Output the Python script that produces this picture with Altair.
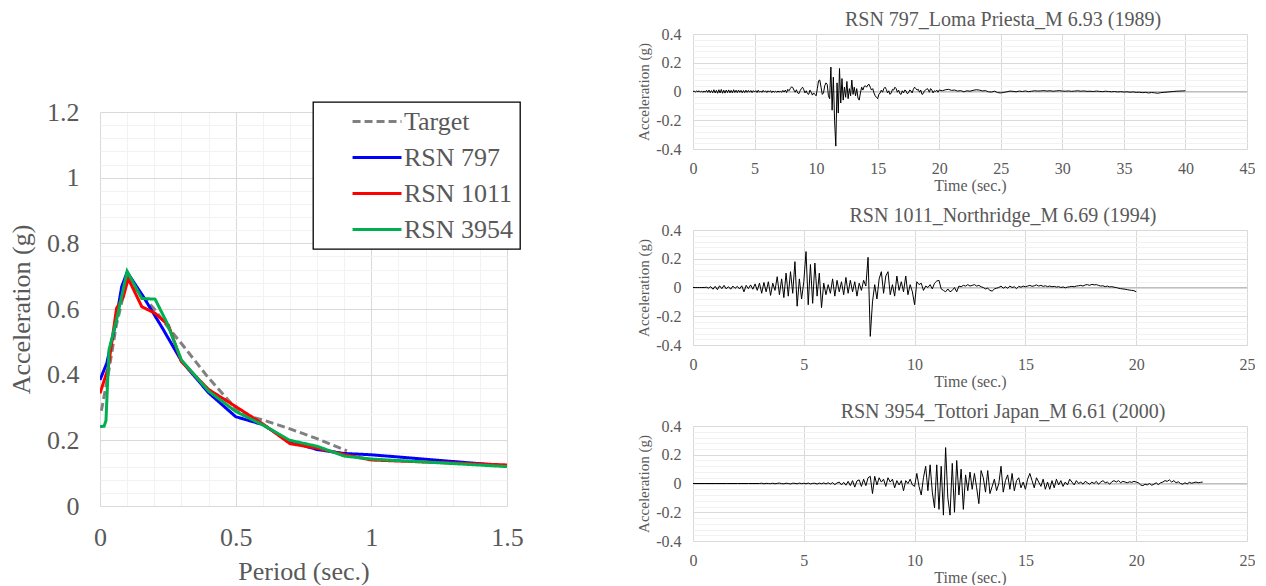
import altair as alt
import pandas as pd

FONT = "Liberation Serif"
GREY = "#595959"
MAJ = "#d9d9d9"
MIN = "#f2f2f2"

# ---------------- response spectra (left) ----------------
series_names = ["Target", "RSN 797", "RSN 1011", "RSN 3954"]
series_colors = ["#808080", "#0000ff", "#ff0000", "#00b050"]
series_dashes = [[8, 4], [1, 0], [1, 0], [1, 0]]

target_T = [0.005, 0.03, 0.06, 0.1, 0.2, 0.25, 0.3, 0.4, 0.47, 0.52, 0.6, 0.7, 0.8, 0.91]
target_A = [0.29, 0.40, 0.55, 0.69, 0.60, 0.545, 0.495, 0.39, 0.325, 0.28, 0.262, 0.235, 0.205, 0.168]

rsn797_T = [0, 0.025, 0.055, 0.08, 0.1, 0.16, 0.227, 0.3, 0.4, 0.5, 0.6, 0.7, 0.8, 0.9, 1.0, 1.5]
rsn797_A = [0.384, 0.435, 0.546, 0.668, 0.712, 0.637, 0.546, 0.442, 0.345, 0.272, 0.248, 0.196, 0.172, 0.160, 0.156, 0.122]

rsn1011_T = [0, 0.03, 0.061, 0.086, 0.104, 0.154, 0.203, 0.252, 0.3, 0.4, 0.5, 0.6, 0.7, 0.8, 0.9, 1.0, 1.5]
rsn1011_A = [0.343, 0.42, 0.602, 0.637, 0.693, 0.607, 0.587, 0.551, 0.44, 0.355, 0.303, 0.25, 0.19, 0.176, 0.157, 0.14, 0.125]

rsn3954_T = [0, 0.015, 0.022, 0.033, 0.061, 0.1, 0.154, 0.203, 0.245, 0.3, 0.4, 0.5, 0.6, 0.7, 0.8, 0.9, 1.0, 1.5]
rsn3954_A = [0.242, 0.243, 0.26, 0.475, 0.567, 0.715, 0.632, 0.63, 0.561, 0.445, 0.35, 0.288, 0.247, 0.2, 0.182, 0.152, 0.143, 0.12]

period_grid = [round(k * 0.1, 1) for k in range(16)]
spec_grid = [round(k * 0.04, 2) for k in range(31)]

# ---------------- acceleration time histories (right) ----------------
rsn797_acc_a = [  # 0.0 .. 20.0 s, dt 0.1
    0.000, 0.002, -0.003, 0.004, -0.002, 0.005, -0.004, 0.003, -0.006, 0.004, -0.005,
    0.008, -0.006, 0.010, -0.008, 0.006, -0.009, 0.012, -0.010, 0.008, -0.012,
    0.012, -0.010, 0.014, -0.012, 0.009, -0.011, 0.010, -0.008, 0.011, -0.009,
    0.008, -0.010, 0.012, -0.007, 0.009, -0.008, 0.010, -0.006, 0.008, -0.009,
    0.007, -0.008, 0.009, -0.006, 0.008, -0.005, 0.007, -0.008, 0.006, -0.004,
    0.006, -0.007, 0.009, -0.005, 0.004, -0.006, 0.008, -0.004, 0.005, -0.007,
    0.005, -0.004, 0.006, -0.008, 0.004, -0.005, 0.003, -0.006, 0.004, -0.005,
    0.004, -0.006, 0.008, -0.004, 0.010, -0.008, 0.015, 0.005, 0.020, 0.032,
    0.028, 0.010, -0.005, 0.012, -0.010, -0.015, 0.005, 0.020, 0.030, 0.012,
    -0.010, 0.005, -0.015, -0.020, 0.010, -0.005, -0.025, -0.010, -0.020, -0.030,
    0.020, 0.075, 0.080, 0.030, -0.020, -0.010, 0.040, 0.060, 0.050, -0.030,
    -0.050, 0.170, -0.130, 0.100, -0.200, -0.380, 0.060, -0.150, 0.160, -0.080,
    0.090, -0.060, 0.030, -0.040, 0.070, -0.050, 0.020, -0.030, 0.080, -0.020,
    0.030, -0.030, 0.020, -0.045, -0.060, -0.010, 0.030, 0.010, 0.035, 0.040,
    0.030, 0.045, 0.050, 0.030, 0.010, 0.020, -0.010, -0.030, -0.040, -0.050,
    -0.020, -0.010, 0.010, -0.005, 0.020, 0.030, 0.015, -0.010, 0.005, -0.020,
    -0.010, 0.015, 0.010, 0.030, 0.020, -0.005, 0.010, -0.015, -0.020, 0.005,
    -0.010, 0.010, 0.005, -0.015, -0.010, 0.010, 0.005, -0.010, 0.015, 0.030,
    0.020, 0.010, 0.015, -0.005, 0.010, -0.020, -0.015, 0.005, 0.010, 0.020,
    0.015, -0.005, 0.020, 0.010, -0.010, 0.005, 0.000, 0.010, -0.005, 0.010,
]
rsn797_acc_b = [  # 20.25 .. 40.0 s, dt 0.25
    0.005, 0.012, 0.015, 0.008, 0.010, 0.003, 0.006, -0.002,
    0.005, 0.002, 0.008, 0.012, 0.010, 0.004, 0.006, -0.002,
    -0.004, 0.002, -0.008, -0.010, -0.006, -0.002, 0.003, 0.001,
    -0.002, 0.003, 0.000, 0.004, -0.001, 0.002, 0.005, 0.003,
    0.004, 0.006, 0.003, 0.005, 0.002, 0.004, 0.006, 0.003,
    0.002, 0.004, 0.001, 0.003, 0.005, 0.002, 0.004, 0.001,
    0.002, 0.000, 0.003, 0.001, -0.001, 0.002, 0.000, -0.002,
    0.000, -0.003, -0.001, -0.004, -0.002, -0.005, -0.003, -0.006,
    -0.005, -0.008, -0.006, -0.010, -0.007, -0.009, -0.012, -0.008,
    -0.006, -0.004, -0.002, 0.000, 0.002, 0.003, 0.004, 0.005,
]

rsn1011_acc = [  # 0.0 .. 20.0 s, dt 0.1
    0.000, 0.000, 0.000, 0.000, 0.000, 0.000, 0.002, -0.004, 0.006, -0.012, 0.008,
    -0.015, 0.012, -0.008, 0.015, -0.010, 0.006, -0.012, 0.010, -0.006, 0.008,
    -0.010, 0.012, -0.030, 0.015, -0.008, 0.018, -0.012, 0.025, -0.020, 0.030,
    -0.040, 0.035, -0.030, 0.040, -0.055, 0.030, -0.020, 0.075, -0.050, 0.060,
    -0.070, 0.100, -0.060, 0.110, -0.040, 0.180, -0.130, 0.060, -0.080, 0.040,
    0.250, -0.120, 0.160, -0.110, 0.170, -0.060, 0.100, -0.140, 0.030, -0.050,
    0.020, -0.040, 0.060, -0.060, 0.050, -0.030, 0.040, -0.050, 0.070, -0.040,
    0.050, -0.030, 0.040, -0.060, 0.030, -0.020, 0.050, 0.010, 0.210, -0.340,
    -0.100, 0.020, -0.080, 0.060, 0.110, -0.040, 0.080, 0.110, -0.050, 0.020,
    -0.060, 0.080, -0.020, 0.040, -0.030, 0.080, -0.050, 0.020, -0.030, -0.120,
    0.040, 0.020, 0.030, -0.020, 0.010, 0.000, 0.020, -0.010, 0.030, 0.045,
    0.050, -0.010, -0.020, -0.030, -0.010, -0.030, -0.020, 0.000, -0.030, 0.010,
    0.005, 0.015, 0.010, 0.020, 0.010, 0.015, 0.020, 0.010, 0.015, 0.005,
    0.000, -0.010, -0.005, -0.020, -0.025, -0.010, -0.005, 0.000, 0.010, -0.005,
    0.005, -0.005, 0.010, 0.000, 0.005, -0.008, 0.008, 0.002, 0.010, 0.005,
    0.010, 0.015, 0.008, 0.012, 0.018, 0.010, 0.015, 0.008, 0.012, 0.006,
    0.010, 0.005, 0.008, 0.003, 0.006, 0.000, 0.004, -0.002, 0.003, 0.005,
    0.008, 0.005, 0.010, 0.012, 0.015, 0.010, 0.018, 0.020, 0.015, 0.022,
    0.018, 0.020, 0.015, 0.010, 0.012, 0.006, 0.010, 0.004, 0.006, 0.002,
    0.000, -0.005, -0.008, -0.010, -0.012, -0.015, -0.018, -0.020, -0.022, -0.030,
]

rsn3954_acc_a = [0.0, 0.0, 0.0, 0.0, 0.0, 0.0, 0.0]  # 0.0 .. 3.0 s, dt 0.5
rsn3954_acc_b = [  # 3.1 .. 23.0 s, dt 0.1
    0.002, -0.002, 0.001, 0.000, -0.001, 0.002, -0.002, 0.001, 0.003, -0.001,
    -0.002, 0.002, 0.000, -0.003, 0.002, 0.001, -0.002, 0.003, -0.001, 0.002,
    -0.002, 0.003, -0.003, 0.001, 0.002, -0.004, 0.003, -0.002, 0.004, -0.003,
    0.005, -0.004, 0.006, -0.008, 0.004, 0.010, -0.010, 0.008, -0.012, 0.015,
    -0.015, 0.020, -0.025, 0.018, 0.025, -0.020, 0.030, -0.015, 0.040, 0.050,
    -0.070, 0.050, -0.010, 0.040, 0.010, 0.030, -0.020, 0.040, 0.010, 0.030,
    -0.030, 0.020, -0.010, 0.020, -0.050, 0.020, 0.000, 0.030, -0.010, -0.020,
    0.070, -0.020, -0.080, 0.040, 0.120, -0.050, 0.130, -0.060, -0.170, 0.130,
    -0.180, 0.120, -0.220, 0.250, -0.100, -0.220, 0.140, -0.200, 0.160, -0.080,
    0.100, -0.180, 0.060, -0.050, 0.080, -0.040, 0.070, -0.030, -0.140, 0.090,
    0.040, -0.060, 0.090, -0.070, -0.020, 0.030, -0.050, 0.000, 0.120, -0.060,
    0.020, 0.060, -0.040, 0.070, -0.050, 0.020, 0.040, -0.030, 0.010, -0.040,
    0.030, 0.070, 0.020, -0.030, 0.040, 0.010, -0.020, 0.030, -0.040, 0.010,
    -0.040, 0.020, -0.030, 0.030, -0.010, 0.020, -0.020, 0.010, -0.010, 0.030,
    0.010, -0.010, 0.020, 0.000, 0.010, -0.005, 0.015, 0.005, -0.005, 0.010,
    0.000, 0.015, -0.005, 0.010, 0.020, 0.005, 0.010, -0.005, 0.012, 0.020,
    0.010, 0.020, 0.005, 0.015, 0.010, 0.005, 0.012, 0.008, 0.015, 0.010,
    0.005, -0.010, -0.015, -0.005, -0.010, 0.000, -0.012, -0.005, 0.005, -0.008,
    0.005, 0.010, 0.020, 0.015, 0.025, 0.010, 0.020, 0.005, 0.012, 0.000,
    -0.005, 0.005, -0.003, 0.008, 0.002, 0.006, 0.010, 0.005, 0.008, 0.010,
]

acc_grid = [round(-0.4 + k * 0.04, 2) for k in range(21)]

panel_titles = [
    "RSN 797_Loma Priesta_M 6.93 (1989)",
    "RSN 1011_Northridge_M 6.69 (1994)",
    "RSN 3954_Tottori Japan_M 6.61 (2000)",
]
panel_xmax = [45, 25, 25]


def spectra_frame():
    rows = []
    for name, T, A in [("Target", target_T, target_A), ("RSN 797", rsn797_T, rsn797_A),
                       ("RSN 1011", rsn1011_T, rsn1011_A), ("RSN 3954", rsn3954_T, rsn3954_A)]:
        for k, (t, a) in enumerate(zip(T, A)):
            rows.append({"series": name, "T": t, "A": a, "i": k})
    return pd.DataFrame(rows)


def acc_frame(segments):
    rows = []
    for t0, dt, vals in segments:
        for k, v in enumerate(vals):
            rows.append({"t": round(t0 + k * dt, 3), "a": v})
    df = pd.DataFrame(rows)
    df["i"] = range(len(df))
    return df


def major_test(step_inv):
    return f"abs(datum.value*{step_inv} - round(datum.value*{step_inv})) < 0.0001"


# ---------------- left chart ----------------
leg = alt.Legend(
    orient="none", legendX=213, legendY=68, title=None,
    symbolType="M1.67,0H5.75", symbolSize=576, symbolStrokeWidth=3,
    labelFont=FONT, labelFontSize=26, labelColor=GREY, labelOffset=58,
    strokeColor="black", fillColor="white", padding=6, rowPadding=9,
)

left_plot = alt.Chart(spectra_frame()).mark_line(strokeWidth=3, clip=True).encode(
    x=alt.X("T:Q", scale=alt.Scale(domain=[0, 1.5], nice=False, zero=False),
            axis=alt.Axis(values=period_grid, title="Period (sec.)", ticks=False, domain=False,
                          gridColor={"condition": {"test": major_test(2), "value": MAJ}, "value": MIN},
                          labelExpr=f"{major_test(2)} ? toString(round(datum.value*10)/10) : ''",
                          labelFont=FONT, labelFontSize=26, labelColor=GREY, labelPadding=18,
                          labelFlush=False, labelOverlap=False,
                          titleFont=FONT, titleFontSize=26, titleColor=GREY, titleFontWeight="normal",
                          titlePadding=8)),
    y=alt.Y("A:Q", scale=alt.Scale(domain=[0, 1.2], nice=False),
            axis=alt.Axis(values=spec_grid, title="Acceleration (g)", ticks=False, domain=False,
                          gridColor={"condition": {"test": major_test(5), "value": MAJ}, "value": MIN},
                          labelExpr=f"{major_test(5)} ? toString(round(datum.value*10)/10) : ''",
                          labelFont=FONT, labelFontSize=26, labelColor=GREY, labelPadding=21,
                          labelFlush=False, labelOverlap=False,
                          titleFont=FONT, titleFontSize=26, titleColor=GREY, titleFontWeight="normal",
                          titlePadding=12)),
    color=alt.Color("series:N", scale=alt.Scale(domain=series_names, range=series_colors), legend=leg),
    strokeDash=alt.StrokeDash("series:N", scale=alt.Scale(domain=series_names, range=series_dashes), legend=leg),
    order="i:Q",
).properties(width=407, height=394)

# empty spacer that lowers the left plot relative to the top-right panel
spacer = alt.Chart(pd.DataFrame({"v": [0]})).mark_point(opacity=0).encode(
    x=alt.value(0), y=alt.value(0)
).properties(width=10, height=65)

left = alt.vconcat(spacer, left_plot, spacing=0)


# ---------------- right panels ----------------
def panel(df, title, xmax):
    xvals = list(range(0, xmax + 1, 5))
    y_enc = alt.Y("a:Q", scale=alt.Scale(domain=[-0.4, 0.4], nice=False),
                  axis=alt.Axis(values=acc_grid, title="Acceleration (g)", ticks=False, domain=False,
                                gridColor={"condition": {"test": major_test(5), "value": MAJ}, "value": MIN},
                                labelExpr=f"{major_test(5)} ? toString(round(datum.value*10)/10) : ''",
                                labelFont=FONT, labelFontSize=16, labelColor=GREY, labelPadding=12,
                                labelOverlap=False, labelFlush=False,
                                titleFont=FONT, titleFontSize=15, titleColor=GREY, titleFontWeight="normal",
                                titlePadding=4))
    x_enc = alt.X("t:Q", scale=alt.Scale(domain=[0, xmax], nice=False),
                  axis=alt.Axis(values=xvals, title="Time (sec.)", ticks=False, domain=False,
                                gridColor=MAJ, labelFont=FONT, labelFontSize=16, labelColor=GREY,
                                labelPadding=11, labelOverlap=False, labelFlush=False,
                                titleFont=FONT, titleFontSize=16, titleColor=GREY, titleFontWeight="normal",
                                titlePadding=1))
    zero = alt.Chart(pd.DataFrame({"a": [0.0]})).mark_rule(color="#bfbfbf", strokeWidth=1).encode(y=y_enc)
    line = alt.Chart(df).mark_line(color="black", strokeWidth=1).encode(x=x_enc, y=y_enc, order="i:Q")
    return alt.layer(zero, line).properties(
        width=554, height=115,
        title=alt.TitleParams(title, font=FONT, fontSize=20, fontWeight="normal", color=GREY,
                              anchor="middle", frame="group", dx=33, dy=29, offset=5, baseline="bottom"),
    )


p1 = panel(acc_frame([(0.0, 0.1, rsn797_acc_a), (20.25, 0.25, rsn797_acc_b)]), panel_titles[0], panel_xmax[0])
p2 = panel(acc_frame([(0.0, 0.1, rsn1011_acc)]), panel_titles[1], panel_xmax[1])
p3 = panel(acc_frame([(0.0, 0.5, rsn3954_acc_a), (3.1, 0.1, rsn3954_acc_b)]), panel_titles[2], panel_xmax[2])

right = alt.vconcat(p1, p2, p3, spacing=13)

chart = alt.hconcat(left, right, spacing=112).properties(
    padding={"left": 0, "top": 2, "right": 0, "bottom": 0}
).configure_view(stroke=None).configure_axis(
    labelFont=FONT, titleFont=FONT
).configure_legend(labelFont=FONT, strokeWidth=1.3).configure_title(font=FONT)

chart.save("out.html", embed_options={"renderer": "svg", "actions": False})
